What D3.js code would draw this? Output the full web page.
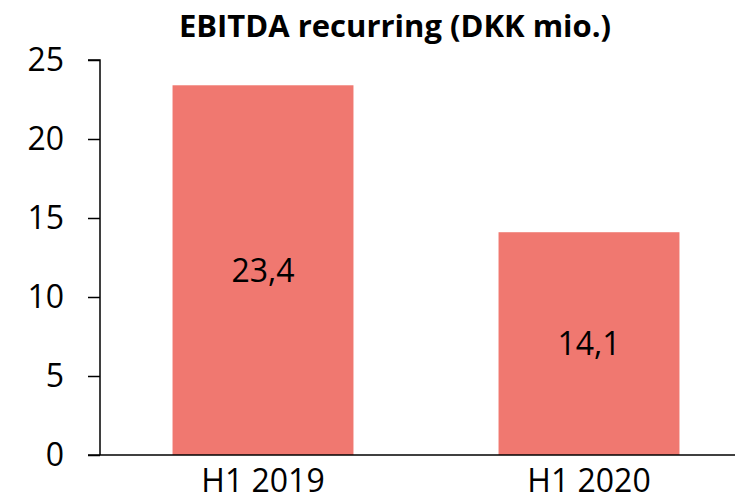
<!DOCTYPE html>
<html>
<head>
<meta charset="utf-8">
<script src="https://cdn.jsdelivr.net/npm/d3@7"></script>
<style>
  body { margin: 0; background: #fff; }
  text { font-family: "Open Sans", "Liberation Sans", sans-serif; fill: #000; }
</style>
</head>
<body>
<svg width="735" height="501"></svg>
<script>
var categories = ["H1 2019", "H1 2020"];
var values = [23.4, 14.1];
var valueLabels = ["23,4", "14,1"];
var yTicks = [0, 5, 10, 15, 20, 25];

var svg = d3.select("svg"),
    width = +svg.attr("width"),
    height = +svg.attr("height"),
    plotLeft = 100, plotTop = 60, plotBottom = 455;

var x = d3.scaleBand()
    .domain(categories)
    .range([plotLeft, plotLeft + 652])
    .paddingInner(0.445)
    .paddingOuter(0.2225);

var y = d3.scaleLinear()
    .domain([0, 25])
    .range([plotBottom, plotTop]);

svg.append("text")
    .attr("x", 395)
    .attr("y", 37)
    .attr("text-anchor", "middle")
    .style("font-size", "31px")
    .style("font-weight", "bold")
    .text("EBITDA recurring (DKK mio.)");

svg.selectAll(".bar")
    .data(values)
    .enter().append("rect")
    .attr("class", "bar")
    .attr("x", function(d, i) { return x(categories[i]); })
    .attr("width", x.bandwidth())
    .attr("y", function(d) { return y(d); })
    .attr("height", function(d) { return y(0) - y(d); })
    .attr("fill", "#f07870");

svg.selectAll(".val")
    .data(values)
    .enter().append("text")
    .attr("class", "val")
    .attr("x", function(d, i) { return x(categories[i]) + x.bandwidth() / 2; })
    .attr("y", function(d) { return (y(d) + y(0)) / 2; })
    .attr("dy", "0.36em")
    .attr("text-anchor", "middle")
    .style("font-size", "32px")
    .text(function(d, i) { return valueLabels[i]; });

// y axis
var yAxis = svg.append("g")
    .attr("transform", "translate(" + plotLeft + ",0)")
    .call(d3.axisLeft(y).tickValues(yTicks).tickSize(12).tickPadding(24));
yAxis.selectAll("path, line").attr("stroke", "#000").attr("stroke-width", 1.5);
yAxis.select(".domain").attr("d", "M-12," + y(25) + "H0V" + y(0));
yAxis.selectAll("text")
    .style("font-family", "\"Open Sans\", sans-serif")
    .style("font-size", "32px")
    .attr("fill", "#000");

// baseline
svg.append("line")
    .attr("x1", 88).attr("x2", width)
    .attr("y1", y(0)).attr("y2", y(0))
    .attr("stroke", "#000")
    .attr("stroke-width", 1.5);

svg.selectAll(".cat")
    .data(categories)
    .enter().append("text")
    .attr("class", "cat")
    .attr("x", function(d) { return x(d) + x.bandwidth() / 2; })
    .attr("y", 492)
    .attr("text-anchor", "middle")
    .style("font-size", "32px")
    .text(function(d) { return d; });
</script>
</body>
</html>
